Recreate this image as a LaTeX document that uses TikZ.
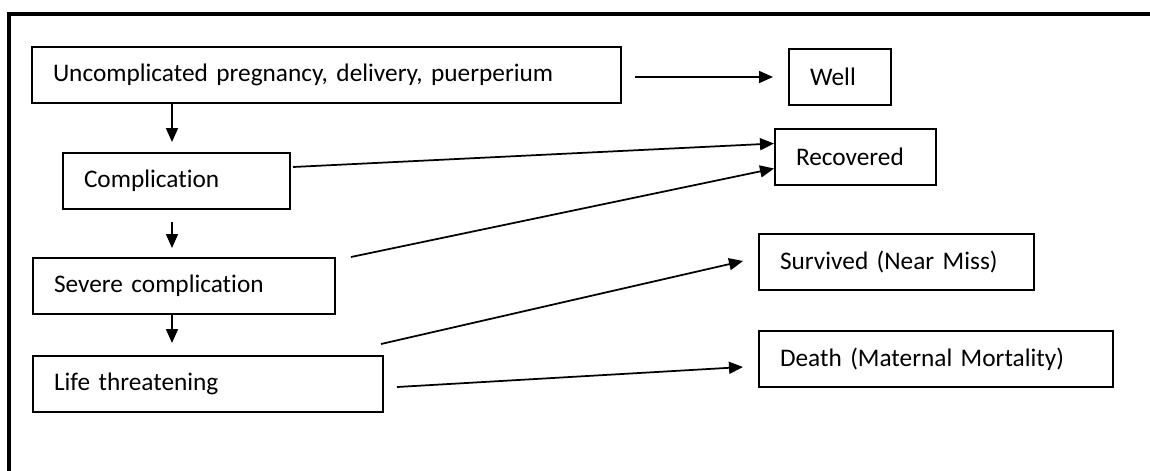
\documentclass[tikz,border=0pt]{standalone}
\usepackage{fontspec}
\setmainfont{Carlito}[Ligatures=NoCommon]
\usetikzlibrary{arrows.meta,calc}

\begin{document}
\begin{tikzpicture}[x=0.2mm,y=-0.2mm,
  box/.style={draw,line width=0.4mm,anchor=north west,align=left,minimum height=11.2mm,inner xsep=4.2mm,inner ysep=0pt,font=\fontsize{14.4}{16}\selectfont},
  arr/.style={-{Triangle[length=2.8mm,width=2.4mm]},line width=0.35mm}]
\useasboundingbox (0,0) rectangle (1150,471);
\draw[line width=0.65mm] (9,471) -- (9,14) -- (1150,14);
\coordinate (axis) at (172,0);
\node[box,text width=109.4mm] (unc) at (31,46) {Uncomplicated pregnancy, delivery, puerperium};
\node[box,text width=37mm] (comp) at (62,152) {Complication};
\node[box,text width=52mm] (sev) at (32,257) {Severe complication};
\node[box,text width=61.6mm] (life) at (32,355) {Life threatening};
\node[box,text width=12mm] (well) at (788,48) {Well};
\node[box,text width=23.8mm] (rec) at (774,128) {Recovered};
\node[box,text width=46.6mm] (surv) at (758,233) {Survived (Near Miss)};
\node[box,text width=62.4mm] (death) at (758,330) {Death (Maternal Mortality)};
\draw[arr] (unc.south -| axis) -- ($(comp.north -| axis)+(0,-10)$);
\draw[arr] ($(comp.south -| axis)+(0,12)$) -- ($(sev.north -| axis)+(0,-9)$);
\draw[arr] (sev.south -| axis) -- ($(life.north -| axis)+(0,-12)$);
\draw[arr] ($(unc.east |- well.west)+(13,0)$) -- ($(well.west)+(-15,0)$);
\draw[arr] ($(comp.east)+(2,-14)$) -- ($(rec.west)+(0,-13.5)$);
\draw[arr] ($(sev.north east)+(15,0)$) -- ($(rec.west)+(0,11.5)$);
\draw[arr] ($(life.north east)+(-3,-11)$) -- ($(surv.west)+(-15,-1)$);
\draw[arr] ($(life.east)+(13,3)$) -- ($(death.west)+(-15,8)$);
\end{tikzpicture}
\end{document}
